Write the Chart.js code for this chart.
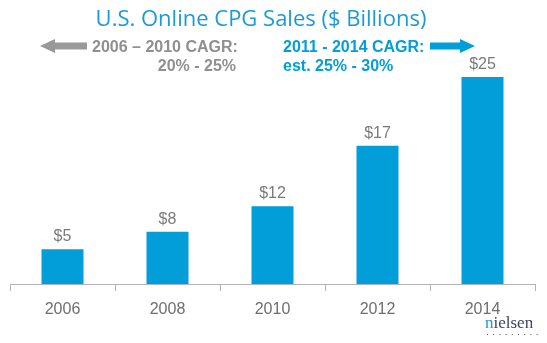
<!DOCTYPE html>
<html>
<head>
<meta charset="utf-8">
<script src="https://cdn.jsdelivr.net/npm/chart.js@4.4.1/dist/chart.umd.min.js"></script>
<style>
  html, body { margin: 0; padding: 0; background: #fff; }
  #wrap { width: 547px; height: 343px; position: relative; }
</style>
</head>
<body>
<div id="wrap"><canvas id="salesChart"></canvas></div>
<script>
const years = ['2006', '2008', '2010', '2012', '2014'];
const sales = [4.2, 6.3, 9.4, 16.7, 25];
const salesLabels = ['$5', '$8', '$12', '$17', '$25'];
const chartTitle = 'U.S. Online CPG Sales ($ Billions)';
const leftNote = ['2006 \u2013 2010 CAGR:', '20% - 25%'];
const rightNote = ['2011 - 2014 CAGR:', 'est. 25% - 30%'];

const BLUE = '#029ed9';
const TITLE_BLUE = '#1b9ad6';
const GREY = '#8f8f8f';

function arrow(ctx, x0, x1, y, color) {
  // x1 is the tip
  const dir = x1 > x0 ? 1 : -1;
  const headLen = 15, headH = 7, shaft = 3.5;
  const base = x1 - dir * headLen;
  ctx.fillStyle = color;
  ctx.beginPath();
  ctx.moveTo(x0, y - shaft);
  ctx.lineTo(base, y - shaft);
  ctx.lineTo(base, y - headH);
  ctx.lineTo(x1, y);
  ctx.lineTo(base, y + headH);
  ctx.lineTo(base, y + shaft);
  ctx.lineTo(x0, y + shaft);
  ctx.closePath();
  ctx.fill();
}

const decorations = {
  id: 'decorations',
  afterDraw(chart) {
    const ctx = chart.ctx;
    ctx.save();

    // title
    ctx.fillStyle = TITLE_BLUE;
    ctx.font = '22px "Open Sans"';
    ctx.textAlign = 'center';
    ctx.textBaseline = 'alphabetic';
    ctx.fillText(chartTitle, 261, 26);

    // CAGR notes
    ctx.font = 'bold 16px "Liberation Sans", Arial';
    ctx.fillStyle = GREY;
    ctx.textAlign = 'left';
    ctx.fillText(leftNote[0], 92, 52);
    ctx.textAlign = 'right';
    ctx.fillText(leftNote[1], 236, 71);
    arrow(ctx, 87, 40, 46, '#999999');

    ctx.fillStyle = BLUE;
    ctx.textAlign = 'left';
    ctx.fillText(rightNote[0], 283, 52);
    ctx.fillText(rightNote[1], 283, 71);
    arrow(ctx, 430, 475, 46, BLUE);

    // value labels
    const meta = chart.getDatasetMeta(0);
    ctx.font = '16px "Liberation Sans", Arial';
    ctx.fillStyle = '#7a7a7a';
    ctx.textAlign = 'center';
    meta.data.forEach((bar, i) => {
      ctx.fillText(salesLabels[i], bar.x, bar.y - 8);
    });

    // logo
    ctx.font = '17px "Liberation Serif", serif';
    ctx.textAlign = 'left';
    ctx.fillStyle = TITLE_BLUE;
    ctx.fillText('n', 485, 328);
    const nw = ctx.measureText('n').width;
    ctx.fillStyle = '#3b4660';
    ctx.fillText('ielsen', 485 + nw, 328);
    ctx.fillStyle = '#555';
    for (let k = 0; k < 9; k++) {
      ctx.fillRect(487 + k * 6.2, 334, 1, 1);
    }

    ctx.restore();
  }
};

new Chart(document.getElementById('salesChart'), {
  type: 'bar',
  data: {
    labels: years,
    datasets: [{
      data: sales,
      backgroundColor: BLUE,
      borderWidth: 0,
      barPercentage: 0.4,
      categoryPercentage: 1
    }]
  },
  options: {
    responsive: true,
    maintainAspectRatio: false,
    animation: false,
    layout: { padding: { top: 77, left: 10, right: 12, bottom: 0 } },
    plugins: {
      legend: { display: false },
      title: { display: false },
      tooltip: { enabled: false }
    },
    scales: {
      x: {
        grid: {
          offset: true,
          drawOnChartArea: false,
          drawTicks: true,
          tickLength: 7,
          color: '#b3b3b3'
        },
        border: { display: true, color: '#b3b3b3', width: 1 },
        ticks: {
          color: '#6e6e6e',
          font: { family: '"Liberation Sans", Arial', size: 16 },
          padding: 9
        },
        afterFit(scale) { scale.height = 59; }
      },
      y: {
        display: false,
        min: 0,
        max: 25
      }
    }
  },
  plugins: [decorations]
});
</script>
</body>
</html>
